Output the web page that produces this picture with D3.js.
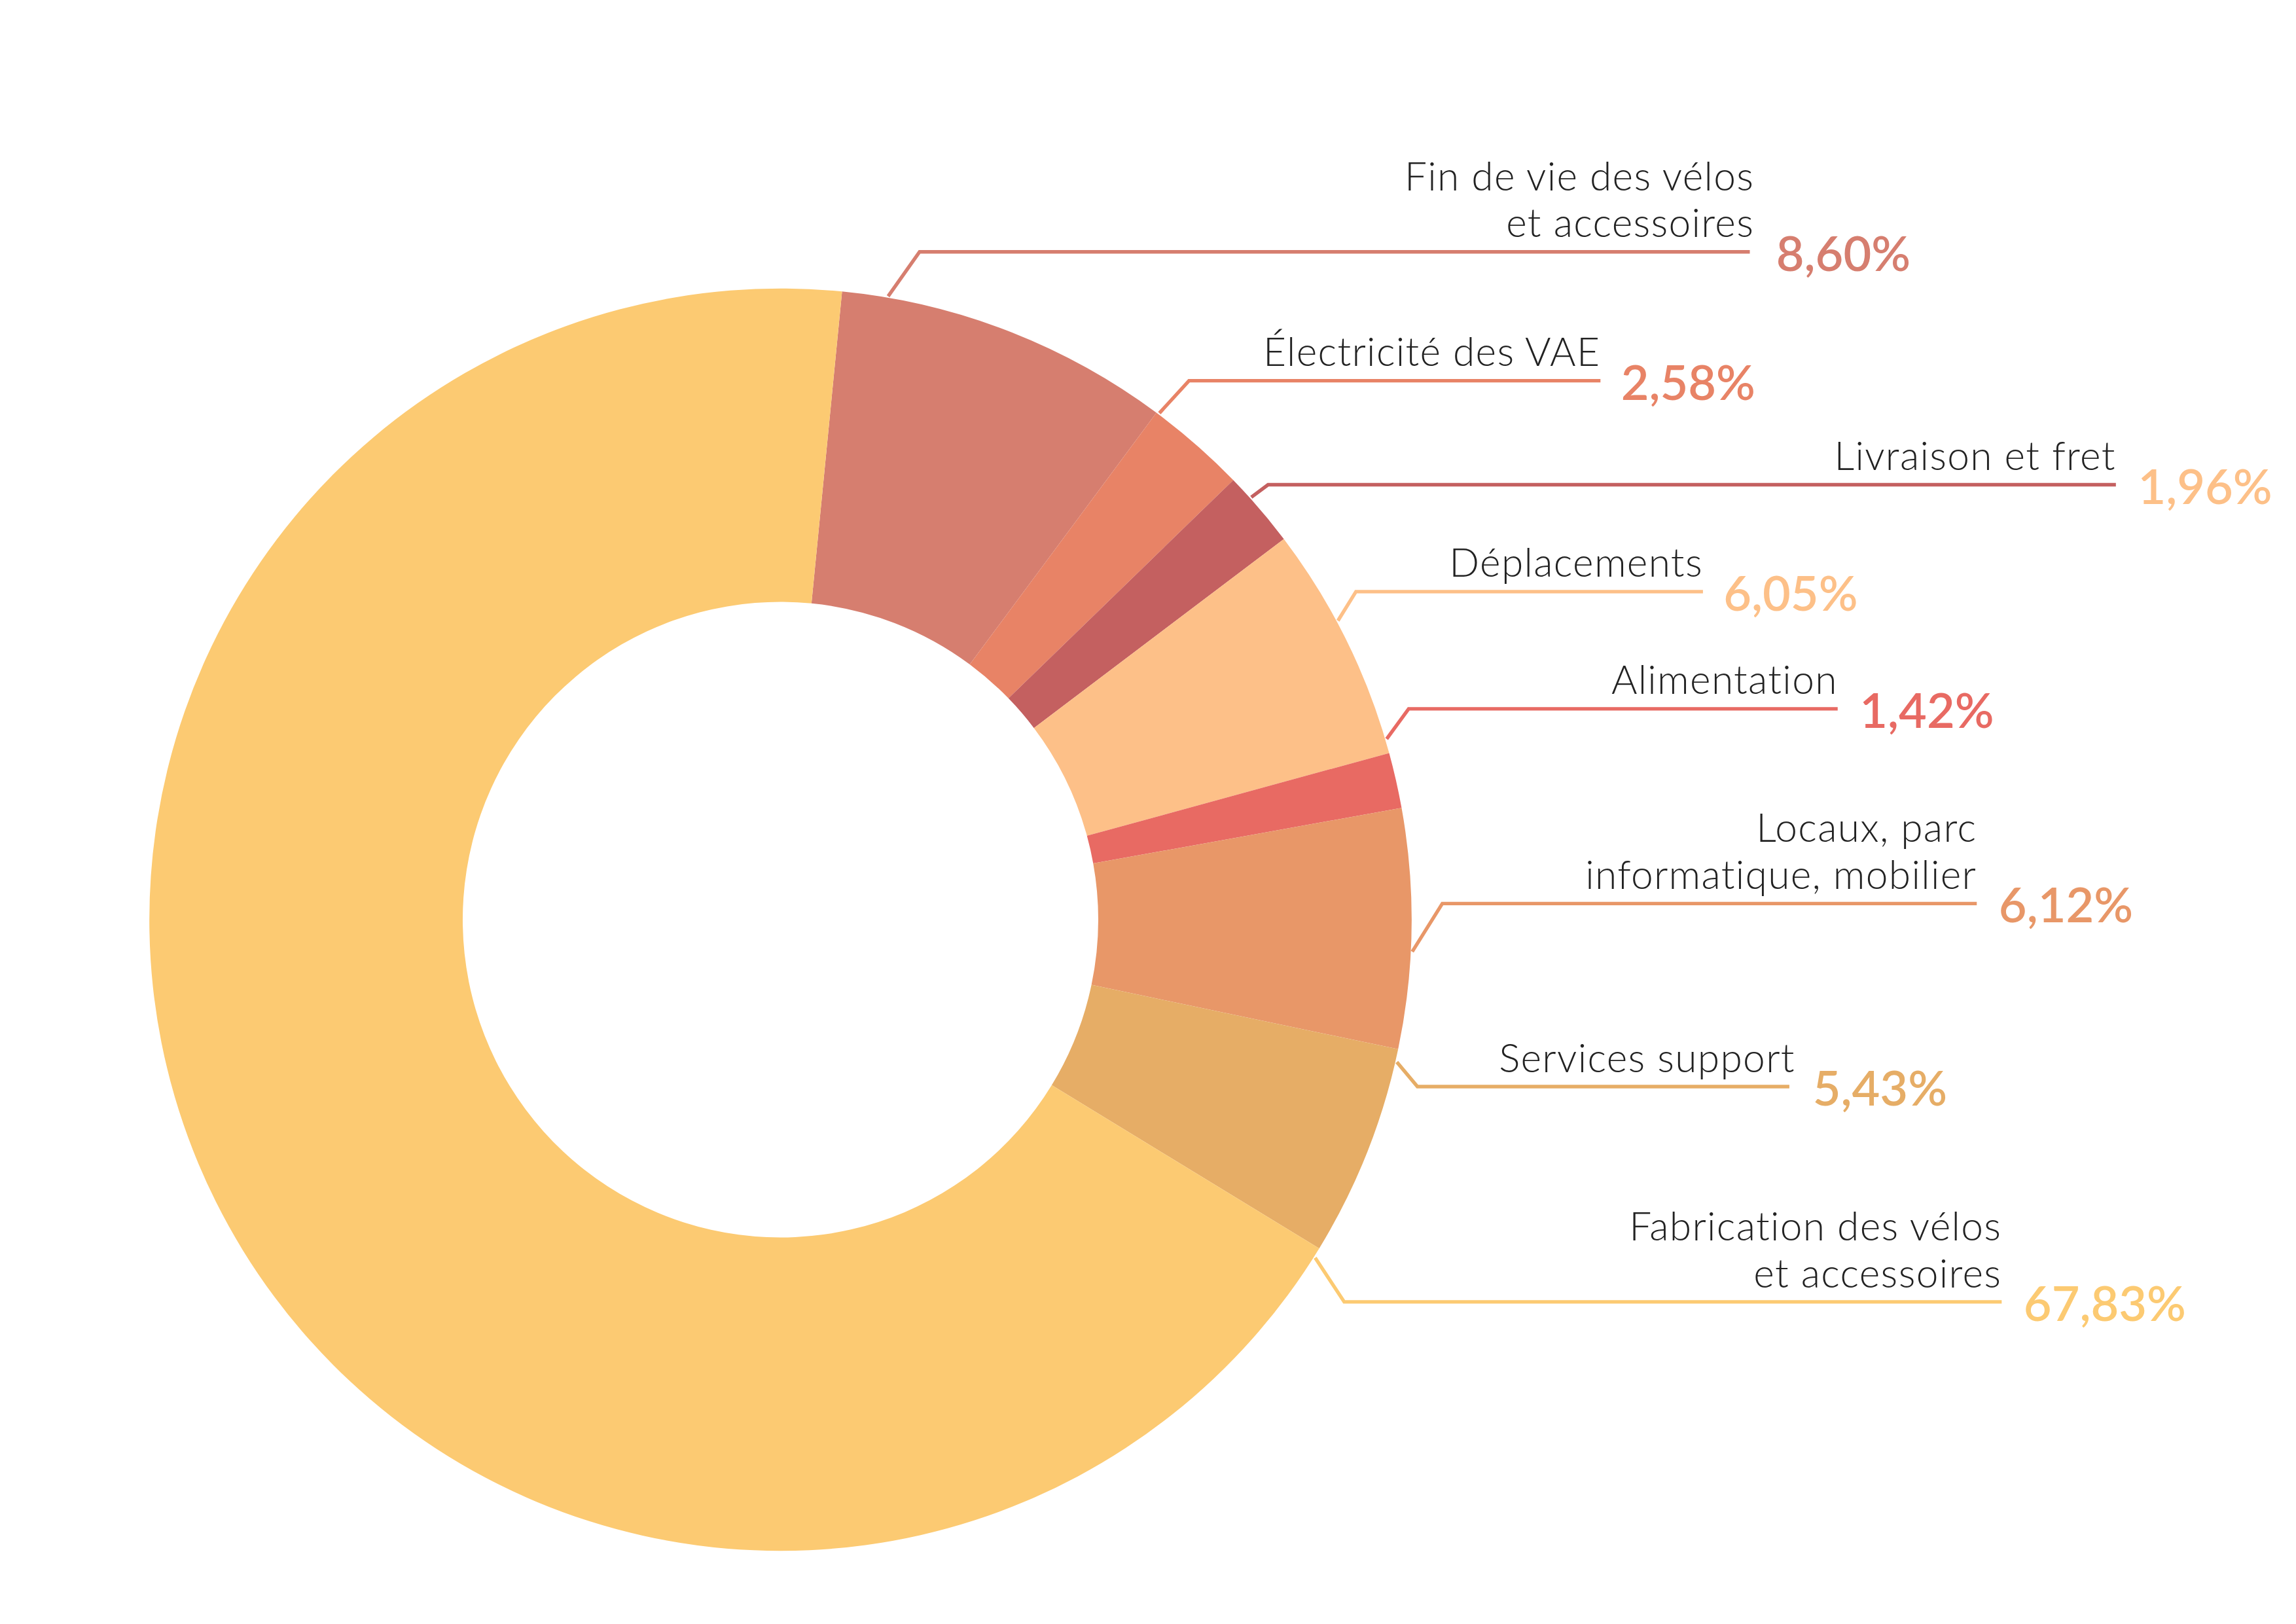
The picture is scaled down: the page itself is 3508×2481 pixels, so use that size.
<!DOCTYPE html>
<html><head><meta charset="utf-8">
<script src="https://cdn.jsdelivr.net/npm/d3@7"></script>
<style>html,body{margin:0;background:#fff}</style></head>
<body><svg id="c" width="3508" height="2481"></svg>
<script>
const categories = ["Fin de vie des vélos|et accessoires","Électricité des VAE","Livraison et fret","Déplacements","Alimentation","Locaux, parc|informatique, mobilier","Services support","Fabrication des vélos|et accessoires"];
const values = [8.60,2.58,1.96,6.05,1.42,6.12,5.43,67.83];
const valueLabels = ["8,60%","2,58%","1,96%","6,05%","1,42%","6,12%","5,43%","67,83%"];
const colors = ["#D67E6F","#E88366","#C46060","#FDC088","#E86A63","#E89768","#E6AD66","#FCCA72"];
const pctColors = ["#D67E6F","#E88366","#FDC088","#FDC088","#E86A63","#E89768","#E6AD66","#FCCA72"];
// annotation layout (display units before scale)
const anchorAngle = [9.8,36.8,48.1,61.8,73.4,92.9,103,122.3];
const elbow = [[628,172],[812,260],[866,331],[926,404],[962,484],[985,617],[968,742],[918,889]];
const lineEnd = [1195,1093,1445,1163,1255,1350,1222,1367];
const textRight = [1198,1093,1445,1163,1255,1350,1226,1367];
const pctX = [1213,1107,1460,1177,1270,1365,1238,1382];

const s = 3508/1568;
const svg = d3.select("#c");
const g = svg.append("g").attr("transform",`scale(${s})`);
const cx=533, cy=628, R=431, r=217;
const startA = 5.6*Math.PI/180;
const pie = d3.pie().sort(null).startAngle(startA).endAngle(startA+2*Math.PI).value(d=>d);
const arc = d3.arc().innerRadius(r).outerRadius(R);
const cg = g.append("g").attr("transform",`translate(${cx},${cy})`);
cg.selectAll("path").data(pie(values)).join("path").attr("d",arc).attr("fill",(d,i)=>colors[i]);

categories.forEach((c,i)=>{
  const a = anchorAngle[i]*Math.PI/180;
  const x0 = cx + (R+1)*Math.sin(a), y0 = cy - (R+1)*Math.cos(a);
  const [ex,ey] = elbow[i];
  g.append("polyline").attr("points",`${x0},${y0} ${ex},${ey} ${lineEnd[i]},${ey}`)
   .attr("fill","none").attr("stroke",colors[i]).attr("stroke-width",2.4);
  const lines = c.split("|");
  lines.forEach((t,j)=>{
    g.append("text").attr("x",textRight[i]).attr("y",ey-10-(lines.length-1-j)*32)
     .attr("text-anchor","end").attr("font-family","Lato").attr("font-weight",300)
     .attr("font-size",27).attr("letter-spacing",0.6).attr("fill","#222").text(t);
  });
  g.append("text").attr("x",pctX[i]).attr("y",ey+13).attr("font-family","Lato")
   .attr("font-weight",600).attr("font-size",33).attr("fill",pctColors[i]).text(valueLabels[i]);
});
</script></body></html>
